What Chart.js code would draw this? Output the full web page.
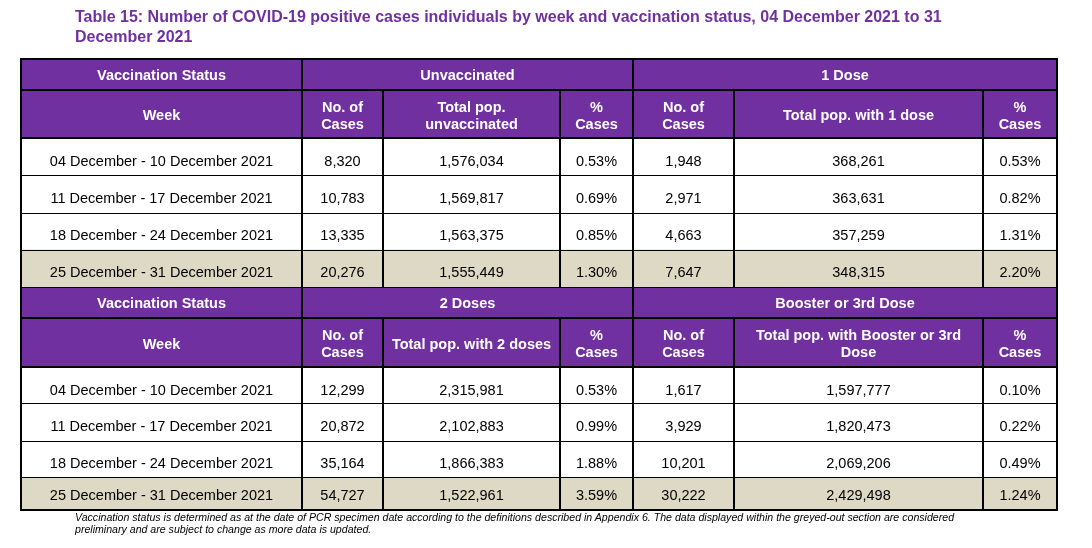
<!DOCTYPE html>
<html>
<head>
<meta charset="utf-8">
<script src="https://cdn.jsdelivr.net/npm/chart.js@4.4.1/dist/chart.umd.min.js"></script>
<style>
html,body{margin:0;padding:0;background:#fff;width:1092px;height:548px;overflow:hidden;}
#wrap{position:relative;width:1092px;height:548px;}
#c{position:absolute;left:0;top:0;}
.title{position:absolute;left:75px;top:7px;font:bold 16px "Liberation Sans",Arial,sans-serif;color:#7030A0;line-height:20px;white-space:nowrap;}
.note{position:absolute;left:75px;top:511px;font:italic 10.6px "Liberation Sans",Arial,sans-serif;color:#000;line-height:12.4px;white-space:nowrap;}
</style>
</head>
<body>
<div id="wrap">
<canvas id="c" width="1092" height="548"></canvas>
<div class="title">Table 15: Number of COVID-19 positive cases individuals by week and vaccination status, 04 December 2021 to 31<br>December 2021</div>
<div class="note">Vaccination status is determined as at the date of PCR specimen date according to the definitions described in Appendix 6. The data displayed within the greyed-out section are considered<br>preliminary and are subject to change as more data is updated.</div>
</div>
<script>
// ---------- DATA ----------
const weeks = [
  "04 December - 10 December 2021",
  "11 December - 17 December 2021",
  "18 December - 24 December 2021",
  "25 December - 31 December 2021"
];
const statusGroups = ["Unvaccinated", "1 Dose", "2 Doses", "Booster or 3rd Dose"];
const popHeaders = ["Total pop.\nunvaccinated", "Total pop. with 1 dose", "Total pop. with 2 doses", "Total pop. with Booster or 3rd\nDose"];
const casesHeader = "No. of\nCases";
const pctHeader = "%\nCases";
const statusHeader = "Vaccination Status";
const weekHeader = "Week";

const unvaccinatedCases = [8320, 10783, 13335, 20276];
const unvaccinatedPop   = [1576034, 1569817, 1563375, 1555449];
const unvaccinatedPct   = [0.53, 0.69, 0.85, 1.30];
const oneDoseCases = [1948, 2971, 4663, 7647];
const oneDosePop   = [368261, 363631, 357259, 348315];
const oneDosePct   = [0.53, 0.82, 1.31, 2.20];
const twoDoseCases = [12299, 20872, 35164, 54727];
const twoDosePop   = [2315981, 2102883, 1866383, 1522961];
const twoDosePct   = [0.53, 0.99, 1.88, 3.59];
const boosterCases = [1617, 3929, 10201, 30222];
const boosterPop   = [1597777, 1820473, 2069206, 2429498];
const boosterPct   = [0.10, 0.22, 0.49, 1.24];

const groupSeries = [
  [unvaccinatedCases, unvaccinatedPop, unvaccinatedPct],
  [oneDoseCases, oneDosePop, oneDosePct],
  [twoDoseCases, twoDosePop, twoDosePct],
  [boosterCases, boosterPop, boosterPct]
];

// ---------- LAYOUT (scale units) ----------
const colEdges = [21, 302, 383, 560, 633, 734, 983, 1057];
const blockRows = [
  [59, 90, 138, 175, 212.5, 249.5, 287],
  [287, 318, 367, 403.5, 440.5, 477, 509.5]
];
const PURPLE = "#7030A0";
const GREY = "#DDD9C4";
const FONT = '"Liberation Sans", Arial, sans-serif';

function fmtInt(n){ return String(n).replace(/\B(?=(\d{3})+(?!\d))/g, ","); }
function fmtPct(v){ return v.toFixed(2) + "%"; }

const tablePlugin = {
  id: "tableCells",
  afterDraw(chart){
    const c = chart.ctx, sx = chart.scales.x, sy = chart.scales.y;
    const X = v => sx.getPixelForValue(v);
    const Y = v => sy.getPixelForValue(v);
    const L = X(colEdges[0]), R = X(colEdges[colEdges.length-1]);
    c.save();

    // fills
    blockRows.forEach(r => {
      c.fillStyle = PURPLE;
      c.fillRect(L, Y(r[0]), R - L, Y(r[2]) - Y(r[0]));
      for (let i = 0; i < weeks.length; i++) {
        c.fillStyle = (i === weeks.length - 1) ? GREY : "#ffffff";
        c.fillRect(L, Y(r[2+i]), R - L, Y(r[3+i]) - Y(r[2+i]));
      }
    });

    function hline(x0, x1, y, w){
      c.lineWidth = w; c.strokeStyle = "#000";
      const yy = (w % 2 === 1) ? Math.round(y) + 0.5 : Math.round(y);
      c.beginPath(); c.moveTo(x0, yy); c.lineTo(x1, yy); c.stroke();
    }
    function vline(x, y0, y1, w){
      c.lineWidth = w; c.strokeStyle = "#000";
      const xx = (w % 2 === 1) ? Math.round(x) + 0.5 : Math.round(x);
      c.beginPath(); c.moveTo(xx, y0); c.lineTo(xx, y1); c.stroke();
    }

    // lines
    blockRows.forEach(r => {
      hline(L, R, Y(r[1]), 2);
      hline(L, R, Y(r[2]), 2);
      for (let i = 3; i < r.length - 1; i++) hline(L, R, Y(r[i]), 1);
      [2,3,5,6].forEach(ci => vline(X(colEdges[ci]), Y(r[1]), Y(r[r.length-1]), 2));
    });
    hline(L, R, Y(blockRows[0][6]), 1);
    const top = Y(blockRows[0][0]), bot = Y(blockRows[1][6]);
    [1,4].forEach(ci => vline(X(colEdges[ci]), top, bot, 2));
    c.lineWidth = 2; c.strokeStyle = "#000";
    c.strokeRect(Math.round(L), Math.round(top), Math.round(R) - Math.round(L), Math.round(bot) - Math.round(top));

    // text
    const size = 14.5;
    const capMid = 0.358 * size;
    c.textAlign = "center";
    c.textBaseline = "alphabetic";
    function cellText(txt, c0, c1, cy, bold, color){
      c.font = (bold ? "bold " : "") + size + "px " + FONT;
      c.fillStyle = color;
      const lines = txt.split("\n");
      const cx = (X(colEdges[c0]) + X(colEdges[c1])) / 2;
      const sp = 17;
      lines.forEach((ln, k) => {
        const y = cy + (k - (lines.length - 1) / 2) * sp;
        c.fillText(ln, cx, y + capMid);
      });
    }

    blockRows.forEach((r, bi) => {
      const g0 = bi * 2, g1 = bi * 2 + 1;
      const h1 = (Y(r[0]) + Y(r[1])) / 2 + 0.5;
      cellText(statusHeader, 0, 1, h1, true, "#fff");
      cellText(statusGroups[g0], 1, 4, h1, true, "#fff");
      cellText(statusGroups[g1], 4, 7, h1, true, "#fff");
      const h2 = (Y(r[1]) + Y(r[2])) / 2 + 1.2;
      cellText(weekHeader, 0, 1, h2, true, "#fff");
      [g0, g1].forEach((g, j) => {
        const base = 1 + j * 3;
        cellText(casesHeader, base, base + 1, h2, true, "#fff");
        cellText(popHeaders[g], base + 1, base + 2, h2, true, "#fff");
        cellText(pctHeader, base + 2, base + 3, h2, true, "#fff");
      });
      for (let i = 0; i < weeks.length; i++) {
        const t = Y(r[2+i]), b = Y(r[3+i]);
        const cy = (b - t) >= 35 ? t + 22.5 : (t + b) / 2 + 1.5;
        cellText(weeks[i], 0, 1, cy, false, "#000");
        [g0, g1].forEach((g, j) => {
          const base = 1 + j * 3;
          const s = groupSeries[g];
          cellText(fmtInt(s[0][i]), base, base + 1, cy, false, "#000");
          cellText(fmtInt(s[1][i]), base + 1, base + 2, cy, false, "#000");
          cellText(fmtPct(s[2][i]), base + 2, base + 3, cy, false, "#000");
        });
      }
    });
    c.restore();
  }
};

new Chart(document.getElementById("c").getContext("2d"), {
  type: "scatter",
  data: { datasets: [] },
  options: {
    responsive: false,
    animation: false,
    devicePixelRatio: 1,
    layout: { padding: 0 },
    plugins: { legend: { display: false }, tooltip: { enabled: false }, title: { display: false } },
    scales: {
      x: { type: "linear", min: 0, max: 1092, display: false },
      y: { type: "linear", min: 0, max: 548, reverse: true, display: false }
    }
  },
  plugins: [tablePlugin]
});
</script>
</body>
</html>
